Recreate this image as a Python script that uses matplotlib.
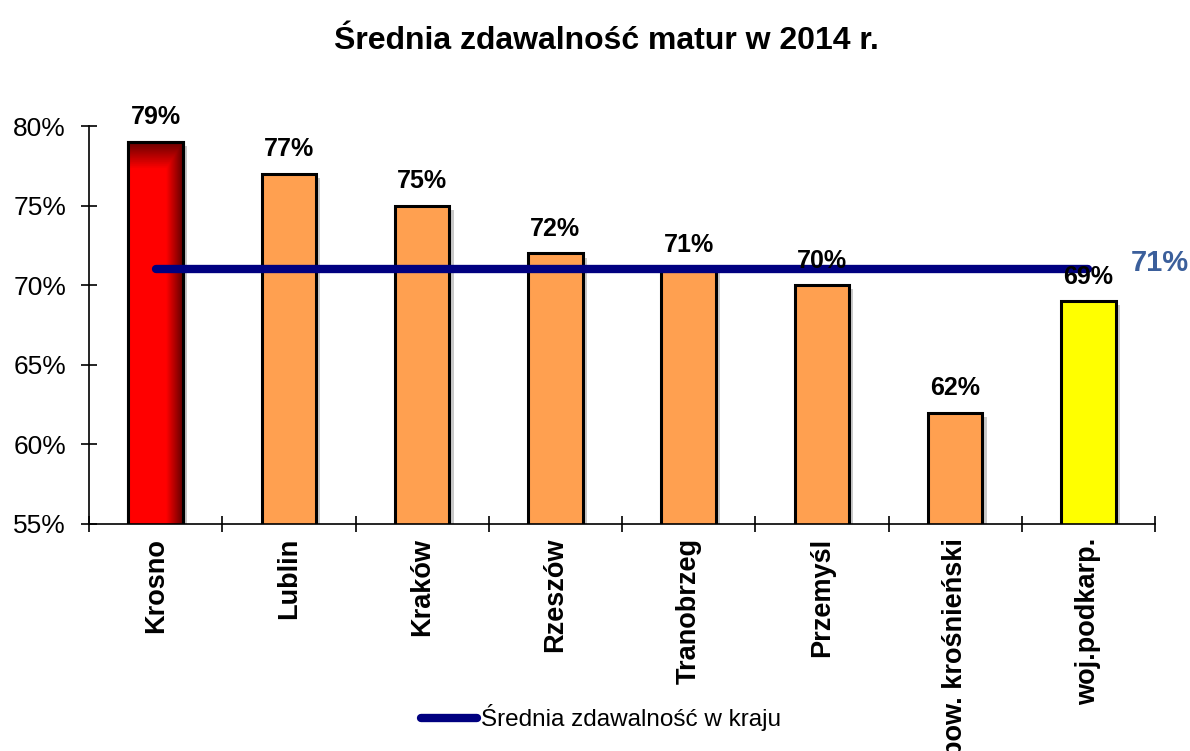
import numpy as np
import matplotlib
matplotlib.use('Agg')
import matplotlib.pyplot as plt
import matplotlib.patheffects as pe
from matplotlib.ticker import FuncFormatter, FixedLocator

plt.rcParams['font.family'] = ['Liberation Sans', 'DejaVu Sans']

# data
cities = ['Krosno', 'Lublin', 'Kraków', 'Rzeszów', 'Tranobrzeg',
          'Przemyśl', 'pow. krośnieński', 'woj.podkarp.']
pass_rate = [79, 77, 75, 72, 71, 70, 62, 69]
national_avg = 71
bar_colors = ['#FF0000', '#FFA050', '#FFA050', '#FFA050', '#FFA050',
              '#FFA050', '#FFA050', '#FFFF00']
y_ticks = [55, 60, 65, 70, 75, 80]

fig = plt.figure(figsize=(11.9, 7.51), dpi=100)
ax = fig.add_axes([0.0748, 0.3023, 0.8958, 0.5299])

x = np.arange(len(cities))
bar_w = 0.41
shadow = [pe.SimplePatchShadow(offset=(3, -3), shadow_rgbFace='#888888', alpha=0.45), pe.Normal()]
bars = ax.bar(x, pass_rate, width=bar_w, color=bar_colors,
              edgecolor='black', linewidth=2.2, zorder=2)
for b in bars:
    b.set_path_effects(shadow)

# red bar: darker towards the right edge and the top
gx = np.linspace(0, 1, 60)
gy = np.linspace(0, 1, 200)
GX, GY = np.meshgrid(gx, gy)
shade = np.clip((GX - 0.7) / 0.3, 0, 1) * 0.6
shade = np.maximum(shade, np.clip((GY - 0.93) / 0.07, 0, 1) * 0.6)
rgb = np.zeros((len(gy), len(gx), 3))
rgb[..., 0] = 1.0 - shade
im = ax.imshow(rgb, origin='lower', aspect='auto', zorder=2.1,
               extent=(x[0] - bar_w / 2, x[0] + bar_w / 2, 55, pass_rate[0]))
im.set_clip_path(bars[0])
ax.bar(x[0], pass_rate[0], width=bar_w, color='none', edgecolor='black',
       linewidth=2.2, zorder=2.2)

# national average line
line, = ax.plot([x[0], x[-1]], [national_avg] * 2, color='#000080', lw=6,
                solid_capstyle='round', zorder=3, label='Średnia zdawalność w kraju')
ax.text(x[-1] + 0.32, national_avg + 0.4, f'{national_avg}%', color='#3B5F9B',
        fontsize=21, fontweight='bold', va='center', ha='left', clip_on=False)

for xi, v in zip(x, pass_rate):
    ax.annotate(f'{v}%', (xi, v), xytext=(0, 9), textcoords='offset points',
                ha='center', va='bottom', fontsize=18, fontweight='bold', zorder=4)

ax.set_ylim(55, 80)
ax.set_xlim(-0.5, len(cities) - 0.5)
ax.set_yticks(y_ticks)
ax.yaxis.set_major_formatter(FuncFormatter(lambda v, p: f'{v:.0f}%'))
ax.tick_params(axis='y', direction='inout', length=11, width=1.2, labelsize=19, pad=11)

ax.set_xticks(x)
ax.set_xticklabels(cities, rotation=90, fontsize=19.5, fontweight='bold', va='top')
ax.tick_params(axis='x', which='major', length=0, pad=10)
ax.xaxis.set_minor_locator(FixedLocator(np.arange(-0.5, len(cities), 1.0)))
ax.tick_params(axis='x', which='minor', direction='inout', length=11, width=1.2)

for s in ['top', 'right']:
    ax.spines[s].set_visible(False)
ax.spines['left'].set_linewidth(1.2)
ax.spines['bottom'].set_linewidth(1.2)

fig.text(0.51, 0.945, 'Średnia zdawalność matur w 2014 r.', ha='center', va='center',
         fontsize=23, fontweight='bold')

fig.legend(handles=[line], loc='center', bbox_to_anchor=(0.505, 0.044), frameon=False,
           fontsize=17.5, handlelength=2.3, handletextpad=0.15)

fig.savefig('out.png', dpi=100)
